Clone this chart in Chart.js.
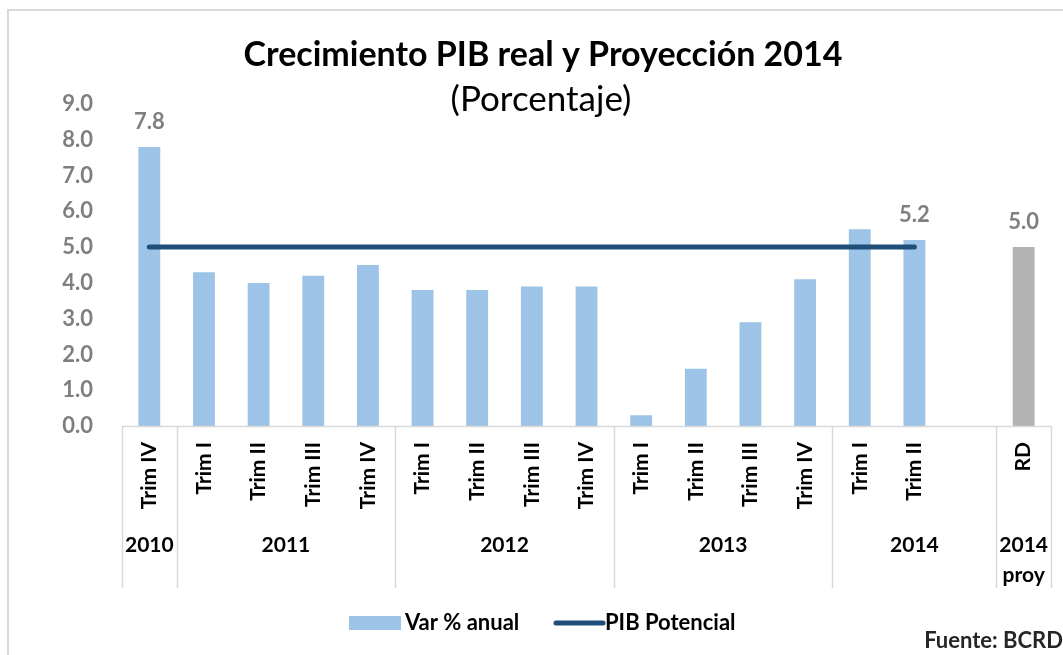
<!DOCTYPE html>
<html>
<head>
<meta charset="utf-8">
<script src="https://cdn.jsdelivr.net/npm/chart.js@4.4.1/dist/chart.umd.min.js"></script>
<style>
  html, body { margin: 0; padding: 0; background: #fff; }
  #wrap { width: 1063px; height: 655px; position: relative; }
</style>
</head>
<body>
<div id="wrap"><canvas id="chart" width="1063" height="655"></canvas></div>
<script>
// Categories (quarter label, year group) and values
const quarters = ['Trim IV', 'Trim I', 'Trim II', 'Trim III', 'Trim IV', 'Trim I', 'Trim II', 'Trim III', 'Trim IV',
                  'Trim I', 'Trim II', 'Trim III', 'Trim IV', 'Trim I', 'Trim II', '', 'RD'];
const yearGroups = [
    { label: ['2010'], from: 0, to: 0 },
    { label: ['2011'], from: 1, to: 4 },
    { label: ['2012'], from: 5, to: 8 },
    { label: ['2013'], from: 9, to: 12 },
    { label: ['2014'], from: 13, to: 15 },
    { label: ['2014', 'proy'], from: 16, to: 16 }
];
const varAnual = [7.8, 4.3, 4.0, 4.2, 4.5, 3.8, 3.8, 3.9, 3.9, 0.3, 1.6, 2.9, 4.1, 5.5, 5.2, null, 5.0];
const pibPotencial = [5.0, 5.0, 5.0, 5.0, 5.0, 5.0, 5.0, 5.0, 5.0, 5.0, 5.0, 5.0, 5.0, 5.0, 5.0, null, null];
const labeledBars = [0, 14, 16];
const yTicks = [0, 1, 2, 3, 4, 5, 6, 7, 8, 9];

const BLUE = '#9DC3E6';
const GREY = '#B3B3B3';
const LINE = '#1F4E79';
const FONT = 'Lato, "Liberation Sans", sans-serif';

const barColors = varAnual.map((v, i) => quarters[i] === 'RD' ? GREY : BLUE);

const decorations = {
    id: 'decorations',
    afterDraw(chart) {
        const ctx = chart.ctx;
        const x = chart.scales.x;
        const area = chart.chartArea;
        ctx.save();

        // frame
        ctx.strokeStyle = '#D9D9D9';
        ctx.lineWidth = 2;
        ctx.beginPath();
        ctx.moveTo(8, 655);
        ctx.lineTo(8, 10);
        ctx.lineTo(1063, 10);
        ctx.stroke();

        // title
        ctx.fillStyle = '#000';
        ctx.textAlign = 'center';
        ctx.textBaseline = 'middle';
        ctx.font = 'bold 34px ' + FONT;
        ctx.fillText('Crecimiento PIB real y Proyección 2014', 543, 55);
        ctx.font = '35px ' + FONT;
        ctx.fillText('(Porcentaje)', 541, 100);

        // data labels
        const meta = chart.getDatasetMeta(1);
        ctx.fillStyle = '#7F7F7F';
        ctx.font = 'bold 22px ' + FONT;
        labeledBars.forEach(i => {
            const el = meta.data[i];
            ctx.fillText(varAnual[i].toFixed(1), el.x, el.y - 25);
        });

        // x axis line
        ctx.strokeStyle = '#D9D9D9';
        ctx.lineWidth = 1.5;
        ctx.beginPath();
        ctx.moveTo(area.left, area.bottom + 0.5);
        ctx.lineTo(area.right, area.bottom + 0.5);
        ctx.stroke();

        // group separators
        const half = (x.getPixelForValue(1) - x.getPixelForValue(0)) / 2;
        const seps = [x.getPixelForValue(0) - half];
        yearGroups.forEach(g => seps.push(x.getPixelForValue(g.to) + half));
        ctx.beginPath();
        seps.forEach(px => {
            ctx.moveTo(Math.round(px) + 0.5, area.bottom);
            ctx.lineTo(Math.round(px) + 0.5, 588);
        });
        ctx.stroke();

        // quarter labels (rotated)
        ctx.fillStyle = '#000';
        ctx.font = 'bold 21px ' + FONT;
        quarters.forEach((q, i) => {
            if (!q) return;
            const px = x.getPixelForValue(i);
            ctx.save();
            ctx.translate(px, area.bottom + 16);
            ctx.rotate(-Math.PI / 2);
            ctx.textAlign = 'right';
            ctx.textBaseline = 'middle';
            ctx.fillText(q, 0, 0);
            ctx.restore();
        });

        // year labels
        ctx.font = 'bold 21px ' + FONT;
        ctx.textAlign = 'center';
        ctx.textBaseline = 'middle';
        yearGroups.forEach(g => {
            const cx = (x.getPixelForValue(g.from) + x.getPixelForValue(g.to)) / 2;
            g.label.forEach((t, k) => ctx.fillText(t, cx, 545 + k * 30));
        });

        // legend
        ctx.font = 'bold 22px ' + FONT;
        ctx.textAlign = 'left';
        ctx.fillStyle = BLUE;
        ctx.fillRect(349, 616, 52, 14);
        ctx.fillStyle = '#000';
        ctx.fillText('Var % anual', 405, 623);
        ctx.strokeStyle = LINE;
        ctx.lineWidth = 5;
        ctx.lineCap = 'round';
        ctx.beginPath();
        ctx.moveTo(556, 623);
        ctx.lineTo(603, 623);
        ctx.stroke();
        ctx.fillText('PIB Potencial', 605, 623);

        ctx.fillStyle = '#262626';
        ctx.textAlign = 'right';
        ctx.fillText('Fuente: BCRD', 1063, 641);

        ctx.restore();
    }
};

new Chart(document.getElementById('chart').getContext('2d'), {
    data: {
        labels: quarters,
        datasets: [
            {
                type: 'line',
                label: 'PIB Potencial',
                data: pibPotencial,
                borderColor: LINE,
                borderWidth: 5,
                borderCapStyle: 'round',
                pointRadius: 0,
                spanGaps: false,
                order: 0
            },
            {
                type: 'bar',
                label: 'Var % anual',
                data: varAnual,
                backgroundColor: barColors,
                barPercentage: 0.4,
                categoryPercentage: 1.0,
                order: 1
            }
        ]
    },
    options: {
        responsive: false,
        animation: false,
        layout: { padding: { top: 104, left: 60, right: 12, bottom: 229 } },
        plugins: {
            legend: { display: false },
            tooltip: { enabled: false }
        },
        scales: {
            x: {
                type: 'category',
                grid: { display: false, drawTicks: false },
                border: { display: false },
                ticks: { display: false }
            },
            y: {
                min: 0,
                max: 9,
                afterBuildTicks(axis) { axis.ticks = yTicks.map(v => ({ value: v })); },
                afterFit(axis) { axis.width = 62; },
                grid: { display: false, drawTicks: false },
                border: { display: false },
                ticks: {
                    padding: 29,
                    color: '#7F7F7F',
                    font: { family: FONT, size: 22, weight: 'bold' },
                    callback: v => Number(v).toFixed(1)
                }
            }
        }
    },
    plugins: [decorations]
});
</script>
</body>
</html>
